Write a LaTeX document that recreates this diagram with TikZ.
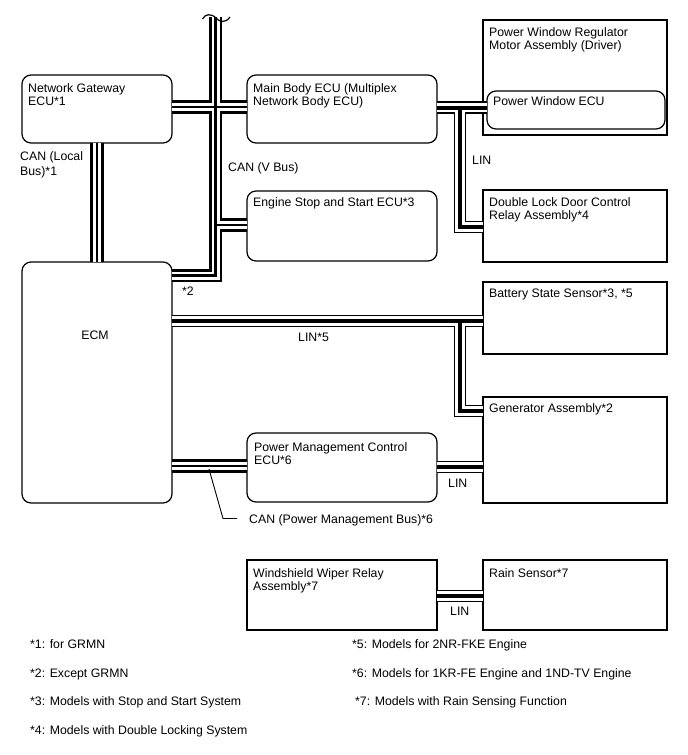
\documentclass[tikz,border=0pt]{standalone}
\usepackage{fontspec}
\setmainfont{Liberation Sans}
\begin{document}
\begin{tikzpicture}[x=1pt,y=-1pt,
  box/.style={draw, line width=1.2pt, fill=white, inner sep=0pt, outer sep=0pt},
  rbox/.style={box, rounded corners=9pt},
  txt/.style={font=\fontsize{12.3}{13.8}\selectfont, align=left, inner sep=0pt, anchor=north west},
  lbl/.style={font=\fontsize{12.3}{13.8}\selectfont, inner sep=0pt, anchor=base west},
  canA/.style={line width=13.4pt, black, line join=miter},
  canB/.style={line width=8pt, white, line join=miter},
  canC/.style={line width=2.7pt, black, line join=miter},
  linA/.style={line width=12.6pt, black, line join=miter},
  linB/.style={line width=9.4pt, white, line join=miter},
  linC/.style={line width=4pt, black, line join=miter},
  leader/.style={line width=0.9pt, black}
]
\useasboundingbox (0,0) rectangle (688,755);
\fill[white] (0,0) rectangle (688,755);

% boxes
\node[rbox, minimum width=150pt, minimum height=68pt] (ngw) at (97,109) {};
\node[rbox, minimum width=190pt, minimum height=68pt] (mbe) at (342,109) {};
\node[box, minimum width=184pt, minimum height=115pt] (pwr) at (575,77.5) {};
\node[rbox, minimum width=178pt, minimum height=38pt] (pwe) at (576,110) {};
\node[rbox, minimum width=190pt, minimum height=70pt] (ess) at (342,226) {};
\node[box, minimum width=184pt, minimum height=72pt] (dld) at (575,226) {};
\node[rbox, minimum width=150pt, minimum height=241pt] (ecm) at (97,382.5) {};
\node[box, minimum width=184pt, minimum height=72pt] (bss) at (575,318) {};
\node[box, minimum width=184pt, minimum height=106pt] (gen) at (575,450) {};
\node[rbox, minimum width=190pt, minimum height=69pt] (pmc) at (342,467.5) {};
\node[box, minimum width=190pt, minimum height=70pt] (wwr) at (342,595) {};
\node[box, minimum width=184pt, minimum height=70pt] (rsn) at (575,595) {};

\coordinate (vtop) at (215.5,17);
\coordinate (vjoin) at (215.5,225);
\coordinate (ljoinA) at (460,107.5);
\coordinate (ljoinB) at (460,321);

\newcommand\canpaths[1]{%
  \draw[#1] (ngw.south) -- (ecm.north);
  \draw[#1] (vtop) -- (215.5,275.5) -- (ecm.east |- 0,275.5);
  \draw[#1] (ngw.east |- 0,107) -- (mbe.west |- 0,107);
  \draw[#1] (vjoin) -- (ess.west |- 0,225);
  \draw[#1] (ecm.east |- 0,466) -- (pmc.west |- 0,466);
}
\newcommand\linpaths[1]{%
  \draw[#1] (mbe.east |- 0,107.5) -- (pwe.west |- 0,107.5);
  \draw[#1] (ljoinA) -- (460,227) -- (dld.west |- 0,227);
  \draw[#1] (ecm.east |- 0,321) -- (bss.west |- 0,321);
  \draw[#1] (ljoinB) -- (460,411) -- (gen.west |- 0,411);
  \draw[#1] (pmc.east |- 0,467) -- (gen.west |- 0,467);
  \draw[#1] (wwr.east |- 0,596) -- (rsn.west |- 0,596);
}
\canpaths{canA}\linpaths{linA}
\canpaths{canB}\linpaths{linB}
\canpaths{canC}\linpaths{linC}

% break mark at top
\draw[line width=1.2pt] (202.5,19) .. controls (205,14) and (211,13) .. (216,18) .. controls (219,21.5) and (225,24) .. (230,17);

% leader for CAN (Power Management Bus)
\coordinate (ldr) at (209,469);
\coordinate (ldrtxt) at (237,518.5);
\draw[leader] (ldr) -- (223,518.5) -- (ldrtxt);

% box texts
\node[txt] (t1) at (28,83) {Network Gateway\\ECU*1};
\node[txt] (t2) at (253,83) {Main Body ECU (Multiplex\\Network Body ECU)};
\node[txt] (t3) at (489,27) {Power Window Regulator\\Motor Assembly (Driver)};
\node[txt] (t4) at (493,96) {Power Window ECU};
\node[txt] (t5) at (253,197) {Engine Stop and Start ECU*3};
\node[txt] (t6) at (489,197) {Double Lock Door Control\\Relay Assembly*4};
\node[font=\fontsize{12.3}{13.8}\selectfont, inner sep=0pt] (t7) at (95,335) {ECM};
\node[txt] (t8) at (489,289) {Battery State Sensor*3, *5};
\node[txt] (t9) at (489,403) {Generator Assembly*2};
\node[txt] (t10) at (254,442) {Power Management Control\\ECU*6};
\node[txt] (t11) at (253,568) {Windshield Wiper Relay\\Assembly*7};
\node[txt] (t12) at (489,568) {Rain Sensor*7};

% bus labels
\node[lbl] (l1) at (20,160) {CAN (Local};
\node[lbl] (l2) at (20,175) {Bus)*1};
\node[lbl] (l3) at (228,171) {CAN (V Bus)};
\node[lbl] (l4) at (472,164) {LIN};
\node[lbl] (l5) at (182,295) {*2};
\node[lbl] (l6) at (298,341.5) {LIN*5};
\node[lbl] (l7) at (448,487) {LIN};
\node[lbl] (l8) at (249,523) {CAN (Power Management Bus)*6};
\node[lbl] (l9) at (450,615) {LIN};

% footnotes
\node[lbl] (f1) at (30,648) {*1: for GRMN};
\node[lbl] (f2) at (30,677) {*2: Except GRMN};
\node[lbl] (f3) at (30,705) {*3: Models with Stop and Start System};
\node[lbl] (f4) at (30,734) {*4: Models with Double Locking System};
\node[lbl] (f5) at (352,648) {*5: Models for 2NR-FKE Engine};
\node[lbl] (f6) at (352,677) {*6: Models for 1KR-FE Engine and 1ND-TV Engine};
\node[lbl] (f7) at (355,705) {*7: Models with Rain Sensing Function};
\end{tikzpicture}
\end{document}
